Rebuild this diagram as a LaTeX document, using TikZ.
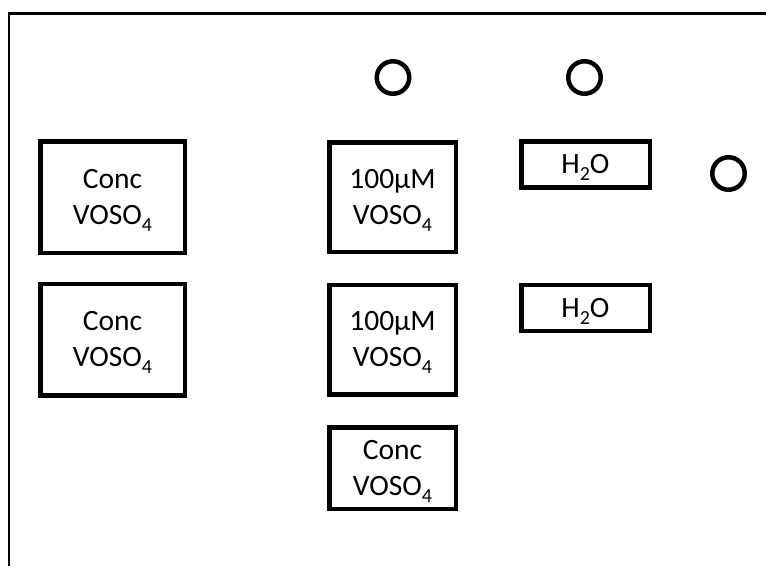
\documentclass[tikz,border=0pt]{standalone}
\usepackage{fontspec}
\setmainfont{Carlito}
% subscript as a word processor sets it: smaller and dropped below the baseline
\newcommand\lowidx[1]{\raisebox{-7pt}[\height][0pt]{\fontsize{20}{20}\selectfont #1}}
\begin{document}
\begin{tikzpicture}[x=1pt,y=-1pt,
  vial/.style={draw=black,line width=4.5pt,rectangle,inner sep=0pt,align=center,
    font=\fontsize{29.5}{36}\selectfont},
  bigvial/.style={vial,minimum width=144.5pt,minimum height=111.5pt},
  midvial/.style={vial,minimum width=126.5pt,minimum height=109.5pt},
  shortvial/.style={vial,minimum width=126.5pt,minimum height=81.5pt},
  watervial/.style={vial,minimum width=128.5pt,minimum height=46pt},
  port/.style={draw=black,line width=4.5pt,circle,inner sep=0pt,minimum size=32.5pt},
  frame/.style={draw=black,line width=2.5pt}]
\useasboundingbox (0,0) rectangle (766,566);
% bench edges
\coordinate (fc) at (9,13.5);
\coordinate (fb) at (9,566);
\coordinate (fr) at (766,13.5);
\draw[frame] (fb) -- (fc) -- (fr);
% concentrated stock, left column
\node[bigvial] (c1) at (112.5,197) {Conc\\VOSO\lowidx{4}};
\node[bigvial] (c2) at (112.5,339.5) {Conc\\VOSO\lowidx{4}};
% middle column
\node[midvial] (m1) at (392.5,197) {100µM\\VOSO\lowidx{4}};
\node[midvial] (m2) at (392.5,339.5) {100µM\\VOSO\lowidx{4}};
\node[shortvial] (m3) at (392.5,468) {Conc\\VOSO\lowidx{4}};
% water
\node[watervial] (w1) at (585.5,164.5) {H\lowidx{2}O};
\node[watervial] (w2) at (585.5,308) {H\lowidx{2}O};
% open ports
\node[port] (p1) at (393,77.5) {};
\node[port] (p2) at (584.5,77.5) {};
\node[port] (p3) at (728.5,173.5) {};
\end{tikzpicture}
\end{document}
